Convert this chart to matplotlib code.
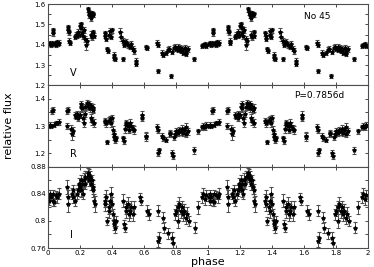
import numpy as np
import matplotlib
matplotlib.use('Agg')
import matplotlib.pyplot as plt
from matplotlib.ticker import MultipleLocator

# folded light curve of No 45, phase 0..1 (shown twice, 0..2)
v_phase = [0.005, 0.012, 0.018, 0.025, 0.030, 0.033, 0.038, 0.045, 0.050, 0.058, 0.065, 0.072,
           0.125, 0.128, 0.132, 0.135, 0.138, 0.170, 0.178, 0.185, 0.190, 0.195, 0.200, 0.205,
           0.210, 0.215, 0.220, 0.225, 0.235, 0.240, 0.245, 0.250, 0.255, 0.260, 0.265, 0.270,
           0.275, 0.280, 0.285, 0.272, 0.278, 0.285, 0.290, 0.355, 0.360, 0.365, 0.372, 0.378,
           0.385, 0.390, 0.395, 0.400, 0.410, 0.415, 0.420, 0.450, 0.455, 0.470, 0.475, 0.480,
           0.470, 0.490, 0.500, 0.510, 0.520, 0.530, 0.540, 0.550, 0.553, 0.615, 0.620, 0.680,
           0.685, 0.688, 0.710, 0.720, 0.735, 0.750, 0.755, 0.770, 0.775, 0.785, 0.795, 0.800,
           0.810, 0.815, 0.825, 0.830, 0.840, 0.845, 0.855, 0.860, 0.865, 0.875, 0.910, 0.960,
           0.970, 0.980, 0.990]
v_flux = [1.405, 1.410, 1.400, 1.408, 1.470, 1.455, 1.405, 1.410, 1.400, 1.412, 1.405, 1.410,
          1.470, 1.485, 1.460, 1.420, 1.410, 1.440, 1.450, 1.445, 1.460, 1.450, 1.490, 1.500,
          1.480, 1.455, 1.445, 1.470, 1.430, 1.400, 1.420, 1.575, 1.560, 1.545, 1.550, 1.530,
          1.555, 1.545, 1.550, 1.450, 1.440, 1.460, 1.445, 1.455, 1.445, 1.430, 1.380, 1.370,
          1.450, 1.465, 1.440, 1.470, 1.350, 1.335, 1.330, 1.460, 1.440, 1.420, 1.400, 1.410,
          1.330, 1.415, 1.400, 1.390, 1.405, 1.380, 1.370, 1.320, 1.305, 1.390, 1.385, 1.410,
          1.400, 1.270, 1.360, 1.350, 1.360, 1.375, 1.380, 1.245, 1.365, 1.385, 1.390, 1.380,
          1.390, 1.375, 1.385, 1.370, 1.380, 1.360, 1.385, 1.370, 1.355, 1.380, 1.330, 1.395,
          1.400, 1.405, 1.395]
v_err = [0.010, 0.010, 0.010, 0.012, 0.012, 0.010, 0.010, 0.010, 0.010, 0.010, 0.010, 0.012,
         0.012, 0.012, 0.012, 0.012, 0.010, 0.010, 0.012, 0.010, 0.015, 0.012, 0.015, 0.012,
         0.012, 0.012, 0.015, 0.015, 0.015, 0.025, 0.015, 0.012, 0.012, 0.012, 0.010, 0.012,
         0.012, 0.010, 0.012, 0.015, 0.015, 0.012, 0.012, 0.012, 0.012, 0.012, 0.010, 0.010,
         0.015, 0.015, 0.012, 0.012, 0.012, 0.010, 0.010, 0.020, 0.020, 0.012, 0.012, 0.015,
         0.010, 0.012, 0.015, 0.012, 0.015, 0.012, 0.015, 0.015, 0.010, 0.010, 0.010, 0.012,
         0.012, 0.010, 0.012, 0.010, 0.010, 0.012, 0.012, 0.010, 0.012, 0.012, 0.012, 0.012,
         0.015, 0.012, 0.012, 0.012, 0.015, 0.012, 0.015, 0.012, 0.012, 0.015, 0.010, 0.010,
         0.010, 0.010, 0.010]

r_phase = [0.005, 0.012, 0.020, 0.028, 0.032, 0.040, 0.050, 0.060, 0.070, 0.118, 0.120, 0.125,
           0.145, 0.150, 0.155, 0.170, 0.178, 0.185, 0.190, 0.200, 0.205, 0.210, 0.215, 0.220,
           0.225, 0.230, 0.235, 0.245, 0.250, 0.255, 0.260, 0.265, 0.270, 0.275, 0.280, 0.285,
           0.272, 0.278, 0.288, 0.355, 0.360, 0.365, 0.372, 0.380, 0.390, 0.395, 0.400, 0.405,
           0.410, 0.415, 0.420, 0.425, 0.470, 0.475, 0.480, 0.485, 0.490, 0.500, 0.505, 0.510,
           0.520, 0.530, 0.540, 0.585, 0.590, 0.610, 0.615, 0.680, 0.685, 0.690, 0.692, 0.710,
           0.720, 0.735, 0.760, 0.765, 0.775, 0.780, 0.785, 0.795, 0.800, 0.810, 0.820, 0.830,
           0.840, 0.845, 0.850, 0.860, 0.865, 0.875, 0.910, 0.935, 0.960, 0.970, 0.980, 0.990]
r_flux = [1.300, 1.305, 1.300, 1.355, 1.360, 1.305, 1.310, 1.310, 1.315, 1.300, 1.355, 1.360,
          1.290, 1.270, 1.280, 1.340, 1.335, 1.345, 1.330, 1.340, 1.370, 1.380, 1.365, 1.330,
          1.310, 1.345, 1.370, 1.385, 1.375, 1.370, 1.380, 1.365, 1.375, 1.370, 1.360, 1.365,
          1.330, 1.320, 1.310, 1.320, 1.315, 1.310, 1.240, 1.320, 1.325, 1.310, 1.330, 1.285,
          1.270, 1.260, 1.250, 1.255, 1.255, 1.245, 1.290, 1.305, 1.310, 1.300, 1.285, 1.310,
          1.300, 1.290, 1.285, 1.340, 1.330, 1.260, 1.265, 1.295, 1.285, 1.200, 1.210, 1.265,
          1.255, 1.250, 1.270, 1.275, 1.200, 1.190, 1.260, 1.270, 1.280, 1.275, 1.285, 1.280,
          1.290, 1.275, 1.285, 1.295, 1.270, 1.280, 1.210, 1.280, 1.295, 1.300, 1.295, 1.305]
r_err = [0.008, 0.008, 0.008, 0.010, 0.010, 0.008, 0.008, 0.008, 0.010, 0.010, 0.010, 0.010,
         0.015, 0.020, 0.015, 0.010, 0.010, 0.012, 0.012, 0.012, 0.015, 0.012, 0.012, 0.015,
         0.015, 0.012, 0.012, 0.012, 0.012, 0.010, 0.012, 0.012, 0.010, 0.012, 0.012, 0.015,
         0.015, 0.015, 0.015, 0.010, 0.010, 0.012, 0.008, 0.012, 0.012, 0.012, 0.012, 0.015,
         0.012, 0.012, 0.012, 0.010, 0.010, 0.010, 0.015, 0.015, 0.012, 0.015, 0.012, 0.015,
         0.015, 0.012, 0.015, 0.015, 0.012, 0.015, 0.012, 0.012, 0.010, 0.010, 0.010, 0.010,
         0.010, 0.010, 0.012, 0.012, 0.010, 0.012, 0.010, 0.012, 0.012, 0.012, 0.012, 0.012,
         0.015, 0.012, 0.012, 0.015, 0.012, 0.012, 0.012, 0.010, 0.010, 0.010, 0.010, 0.010]

i_phase = [0.005, 0.010, 0.015, 0.020, 0.030, 0.035, 0.040, 0.050, 0.060, 0.070, 0.120, 0.125,
           0.128, 0.150, 0.155, 0.160, 0.170, 0.180, 0.190, 0.195, 0.200, 0.205, 0.210, 0.215,
           0.220, 0.225, 0.230, 0.235, 0.245, 0.250, 0.255, 0.260, 0.265, 0.270, 0.275, 0.280,
           0.285, 0.290, 0.295, 0.355, 0.360, 0.365, 0.370, 0.380, 0.385, 0.390, 0.395, 0.400,
           0.405, 0.410, 0.415, 0.420, 0.425, 0.470, 0.475, 0.480, 0.485, 0.490, 0.500, 0.505,
           0.510, 0.520, 0.530, 0.540, 0.575, 0.580, 0.620, 0.630, 0.685, 0.690, 0.692, 0.720,
           0.725, 0.750, 0.775, 0.780, 0.795, 0.800, 0.810, 0.815, 0.820, 0.830, 0.840, 0.845,
           0.850, 0.860, 0.870, 0.880, 0.920, 0.940, 0.960, 0.970, 0.980, 0.990]
i_flux = [0.835, 0.830, 0.840, 0.835, 0.830, 0.840, 0.828, 0.838, 0.835, 0.840, 0.850, 0.835,
          0.825, 0.840, 0.835, 0.845, 0.830, 0.840, 0.845, 0.855, 0.850, 0.860, 0.845, 0.855,
          0.840, 0.860, 0.855, 0.865, 0.865, 0.870, 0.868, 0.860, 0.865, 0.855, 0.860, 0.850,
          0.845, 0.830, 0.825, 0.830, 0.825, 0.835, 0.800, 0.820, 0.815, 0.830, 0.840, 0.825,
          0.810, 0.800, 0.795, 0.790, 0.800, 0.830, 0.795, 0.790, 0.820, 0.815, 0.825, 0.810,
          0.815, 0.820, 0.810, 0.820, 0.835, 0.830, 0.815, 0.810, 0.815, 0.770, 0.775, 0.805,
          0.790, 0.782, 0.775, 0.768, 0.810, 0.815, 0.820, 0.800, 0.825, 0.815, 0.820, 0.810,
          0.815, 0.805, 0.810, 0.800, 0.790, 0.820, 0.835, 0.840, 0.832, 0.838]
i_err = [0.006, 0.006, 0.006, 0.006, 0.008, 0.006, 0.006, 0.006, 0.008, 0.008, 0.010, 0.010,
         0.012, 0.008, 0.008, 0.008, 0.008, 0.008, 0.008, 0.008, 0.008, 0.008, 0.010, 0.008,
         0.008, 0.010, 0.008, 0.008, 0.008, 0.008, 0.008, 0.008, 0.008, 0.010, 0.008, 0.010,
         0.010, 0.010, 0.012, 0.010, 0.010, 0.010, 0.006, 0.010, 0.010, 0.010, 0.010, 0.010,
         0.008, 0.008, 0.008, 0.008, 0.008, 0.010, 0.006, 0.006, 0.010, 0.010, 0.010, 0.010,
         0.010, 0.010, 0.010, 0.010, 0.006, 0.006, 0.008, 0.008, 0.008, 0.008, 0.008, 0.008,
         0.008, 0.008, 0.008, 0.008, 0.008, 0.008, 0.010, 0.010, 0.010, 0.010, 0.010, 0.010,
         0.010, 0.010, 0.010, 0.008, 0.008, 0.010, 0.008, 0.008, 0.008, 0.008]

phase_ticks = [0, 0.2, 0.4, 0.6, 0.8, 1, 1.2, 1.4, 1.6, 1.8, 2]
phase_labels = ['0', '0.2', '0.4', '0.6', '0.8', '1', '1.2', '1.4', '1.6', '1.8', '2']

panels = [
    ('V', v_phase, v_flux, v_err, (1.2, 1.6), 0.05, [1.2, 1.3, 1.4, 1.5, 1.6], ['1.2', '1.3', '1.4', '1.5', '1.6']),
    ('R', r_phase, r_flux, r_err, (1.15, 1.45), 0.05, [1.2, 1.3, 1.4], ['1.2', '1.3', '1.4']),
    ('I', i_phase, i_flux, i_err, (0.76, 0.88), 0.02, [0.76, 0.8, 0.84, 0.88], ['0.76', '0.8', '0.84', '0.88']),
]

fig, axes = plt.subplots(3, 1, sharex=True, figsize=(3.74, 2.67), dpi=100)
fig.subplots_adjust(left=0.128, right=0.984, top=0.985, bottom=0.071, hspace=0)

for ax, (band, ph, fl, er, ylim, minor, yt, ylab) in zip(axes, panels):
    ph = np.array(ph)
    # same folded points repeated one cycle later
    x = np.concatenate([ph, ph + 1])
    y = np.concatenate([fl, fl])
    e = np.concatenate([er, er])
    ax.errorbar(x, y, yerr=e, fmt='*', color='black', ms=3, mew=0.8,
                ecolor='0.3', elinewidth=0.7, capsize=1.3, capthick=0.7)
    ax.set_ylim(*ylim)
    ax.set_xlim(0, 2)
    ax.set_yticks(yt)
    ax.set_yticklabels(ylab)
    ax.yaxis.set_minor_locator(MultipleLocator(minor))
    ax.set_xticks(phase_ticks)
    ax.tick_params(which='both', direction='in', top=True, right=True,
                   labelsize=5, length=2.5, width=0.5, pad=1.5)
    for s in ax.spines.values():
        s.set_linewidth(0.8)
        s.set_color('0.3')
    ax.text(0.07, 0.12, band, transform=ax.transAxes, fontsize=7)

axes[2].set_xticklabels(phase_labels)

axes[0].text(0.8, 0.82, 'No 45', transform=axes[0].transAxes, fontsize=6.5)
axes[1].text(0.77, 0.84, 'P=0.7856d', transform=axes[1].transAxes, fontsize=6.5)
fig.text(0.555, 0.0, 'phase', fontsize=8, ha='center', va='bottom')
fig.text(0.025, 0.53, 'relative flux', rotation=90, fontsize=8, va='center', ha='center')

plt.savefig('out.png', dpi=100)
